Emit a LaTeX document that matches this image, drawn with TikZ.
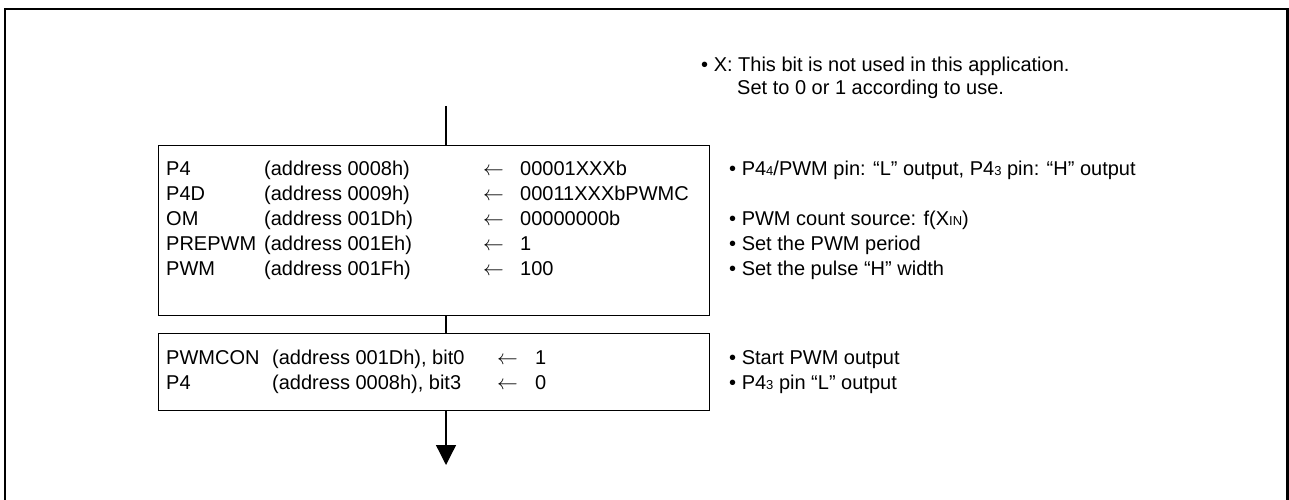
\documentclass[tikz,border=0pt]{standalone}
\usepackage{fontspec}
\setmainfont{Liberation Sans}
\usetikzlibrary{arrows.meta}
\newcommand{\sm}[1]{\raisebox{-0.5pt}{\fontsize{13}{13}\selectfont #1}}
\newcommand{\la}{$\leftarrow$}
\begin{document}
\begin{tikzpicture}[x=1pt,y=-1pt,
  txt/.style={anchor=base west,inner sep=0pt,font=\fontsize{20}{24}\selectfont},
  procbox/.style={draw,line width=1.3pt,inner sep=0pt,anchor=north west,minimum width=551pt},
  flow/.style={line width=1.3pt},
  frame/.style={line width=2.5pt}]
\useasboundingbox (0,0) rectangle (1289,500);
% outer frame (open at bottom)
\coordinate (fbl) at (5,500);
\coordinate (ftl) at (5,9);
\coordinate (ftr) at (1287.5,9);
\coordinate (fbr) at (1287.5,500);
\draw[frame] (fbl) -- (ftl) -- (ftr) -- (fbr);
% boxes
\node[procbox,minimum height=170pt] (b1) at (158,145) {};
\node[procbox,minimum height=77pt] (b2) at (158,333) {};
% flow line
\coordinate (t) at (446,106);
\coordinate (e) at (446,465);
\draw[flow] (t) -- (t |- b1.north);
\draw[flow] (t |- b1.south) -- (t |- b2.north);
\draw[flow,-{Triangle[width=20pt,length=20pt]}] (t |- b2.south) -- (e);
% note
\node[txt] (n1) at (701,72) {\textbullet\ X: This bit is not used in this application.};
\node[txt] (n2) at (737,95) {Set to 0 or 1 according to use.};
% box 1 text
\node[txt] (a1) at (166,175) {P4};
\node[txt] (a2) at (166,200) {P4D};
\node[txt] (a3) at (166,225) {OM};
\node[txt] (a4) at (166,250) {PREPWM};
\node[txt] (a5) at (166,275) {PWM};
\node[txt] (d1) at (264,175) {(address 0008h)};
\node[txt] (d2) at (264,200) {(address 0009h)};
\node[txt] (d3) at (264,225) {(address 001Dh)};
\node[txt] (d4) at (264,250) {(address 001Eh)};
\node[txt] (d5) at (264,275) {(address 001Fh)};
\node[txt] (l1) at (483,175) {\la};
\node[txt] (l2) at (483,200) {\la};
\node[txt] (l3) at (483,225) {\la};
\node[txt] (l4) at (483,250) {\la};
\node[txt] (l5) at (483,275) {\la};
\node[txt] (v1) at (520,175) {00001XXXb};
\node[txt] (v2) at (520,200) {00011XXXbPWMC};
\node[txt] (v3) at (520,225) {00000000b};
\node[txt] (v4) at (520,250) {1};
\node[txt] (v5) at (520,275) {100};
% box 1 comments
\node[txt] (c1) at (729,175) {\textbullet\ P4\sm{4}/PWM pin: “L” output, P4\sm{3} pin: “H” output};
\node[txt] (c3) at (729,225) {\textbullet\ PWM count source: f(X\sm{IN})};
\node[txt] (c4) at (729,250) {\textbullet\ Set the PWM period};
\node[txt] (c5) at (729,275) {\textbullet\ Set the pulse “H” width};
% box 2 text
\node[txt] (p1) at (166,364) {PWMCON};
\node[txt] (p2) at (166,389) {P4};
\node[txt] (q1) at (272,364) {(address 001Dh), bit0};
\node[txt] (q2) at (272,389) {(address 0008h), bit3};
\node[txt] (m1) at (497,364) {\la};
\node[txt] (m2) at (497,389) {\la};
\node[txt] (w1) at (535,364) {1};
\node[txt] (w2) at (535,389) {0};
\node[txt] (s1) at (729,364) {\textbullet\ Start PWM output};
\node[txt] (s2) at (729,389) {\textbullet\ P4\sm{3} pin “L” output};
\end{tikzpicture}
\end{document}
